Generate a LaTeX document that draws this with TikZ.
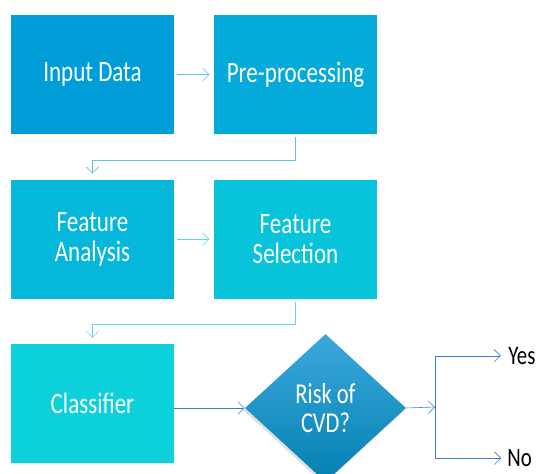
\documentclass[tikz,border=0pt]{standalone}
\usepackage{fontspec}
\setmainfont{Carlito}[FakeStretch=0.78]
\usepackage{tikz}
\usetikzlibrary{arrows.meta,shapes.geometric,shadows}

\definecolor{inblue}{RGB}{0,158,216}
\definecolor{preblue}{RGB}{4,170,218}
\definecolor{fablue}{RGB}{5,183,218}
\definecolor{fsblue}{RGB}{8,196,218}
\definecolor{clsblue}{RGB}{13,209,218}
\definecolor{diatop}{RGB}{60,168,220}
\definecolor{diabot}{RGB}{3,128,178}
\definecolor{linkone}{RGB}{95,195,232}
\definecolor{linktwo}{RGB}{95,215,232}
\definecolor{linkdark}{RGB}{60,125,200}

\begin{document}
\begin{tikzpicture}[
    >={Straight Barb[length=1.6mm,width=3.2mm]},
    stagebox/.style={minimum width=4.075cm, minimum height=2.975cm, inner sep=0pt,
                     text=white, align=center, font=\fontsize{21}{21}\selectfont},
    riskbox/.style={diamond, minimum width=4.025cm, minimum height=3.7cm, inner sep=0pt,
                    top color=diatop, bottom color=diabot, text=white, align=center,
                    font=\fontsize{20.5}{21}\selectfont,
                    drop shadow={opacity=0.25, shadow xshift=-0.04cm, shadow yshift=-0.06cm}},
    outlabel/.style={anchor=west, inner sep=0pt, font=\fontsize{19}{19}\selectfont}
  ]
        \useasboundingbox (0,0) rectangle (13.45,11.825);

        \node [stagebox, fill=inblue]  (input) at (2.3125,9.9625) {Input Data};          %row 1
        \node [stagebox, fill=preblue] (prep)  at (7.3875,9.9625) {Pre-processing};      %
        \node [stagebox, fill=fablue]  (fana)  at (2.3125,5.8425) {Feature\\Analysis};   %row 2
        \node [stagebox, fill=fsblue]  (fsel)  at (7.3875,5.8425) {Feature\\Selection};  %
        \node [stagebox, fill=clsblue] (cls)   at (2.3125,1.7375) {Classifier};          %row 3
        \node [riskbox]                (risk)  at (8.1375,1.625)  {Risk of\\CVD?};       %

        \coordinate (fork) at (10.875,1.65);                                             %branch
        \node [outlabel] (yes) at (12.7,2.93) {Yes};                                      %
        \node [outlabel] (no)  at (12.68,0.37) {No};                                      %

        \draw [linkone, ->, shorten <=0.07cm, shorten >=0.11cm] (input) -- (prep);
        \draw [linkone, ->, shorten <=0.08cm, shorten >=0.15cm]
              (prep.south) -- ++(0,-0.64) -| (fana.north);
        \draw [linktwo, ->, shorten <=0.07cm, shorten >=0.11cm] (fana) -- (fsel);
        \draw [linktwo, ->, shorten <=0.08cm, shorten >=0.15cm]
              (fsel.south) -- ++(0,-0.64) -| (cls.north);
        \draw [linkdark, ->] (cls.east |- risk.west) -- (risk.west);
        \draw [linkdark, ->] (risk.east) -- (fork);
        \draw [linkdark, ->, shorten >=0.18cm] (fork) |- (yes.west);
        \draw [linkdark, ->, shorten >=0.15cm] (fork) |- (no.west);
\end{tikzpicture}
\end{document}
